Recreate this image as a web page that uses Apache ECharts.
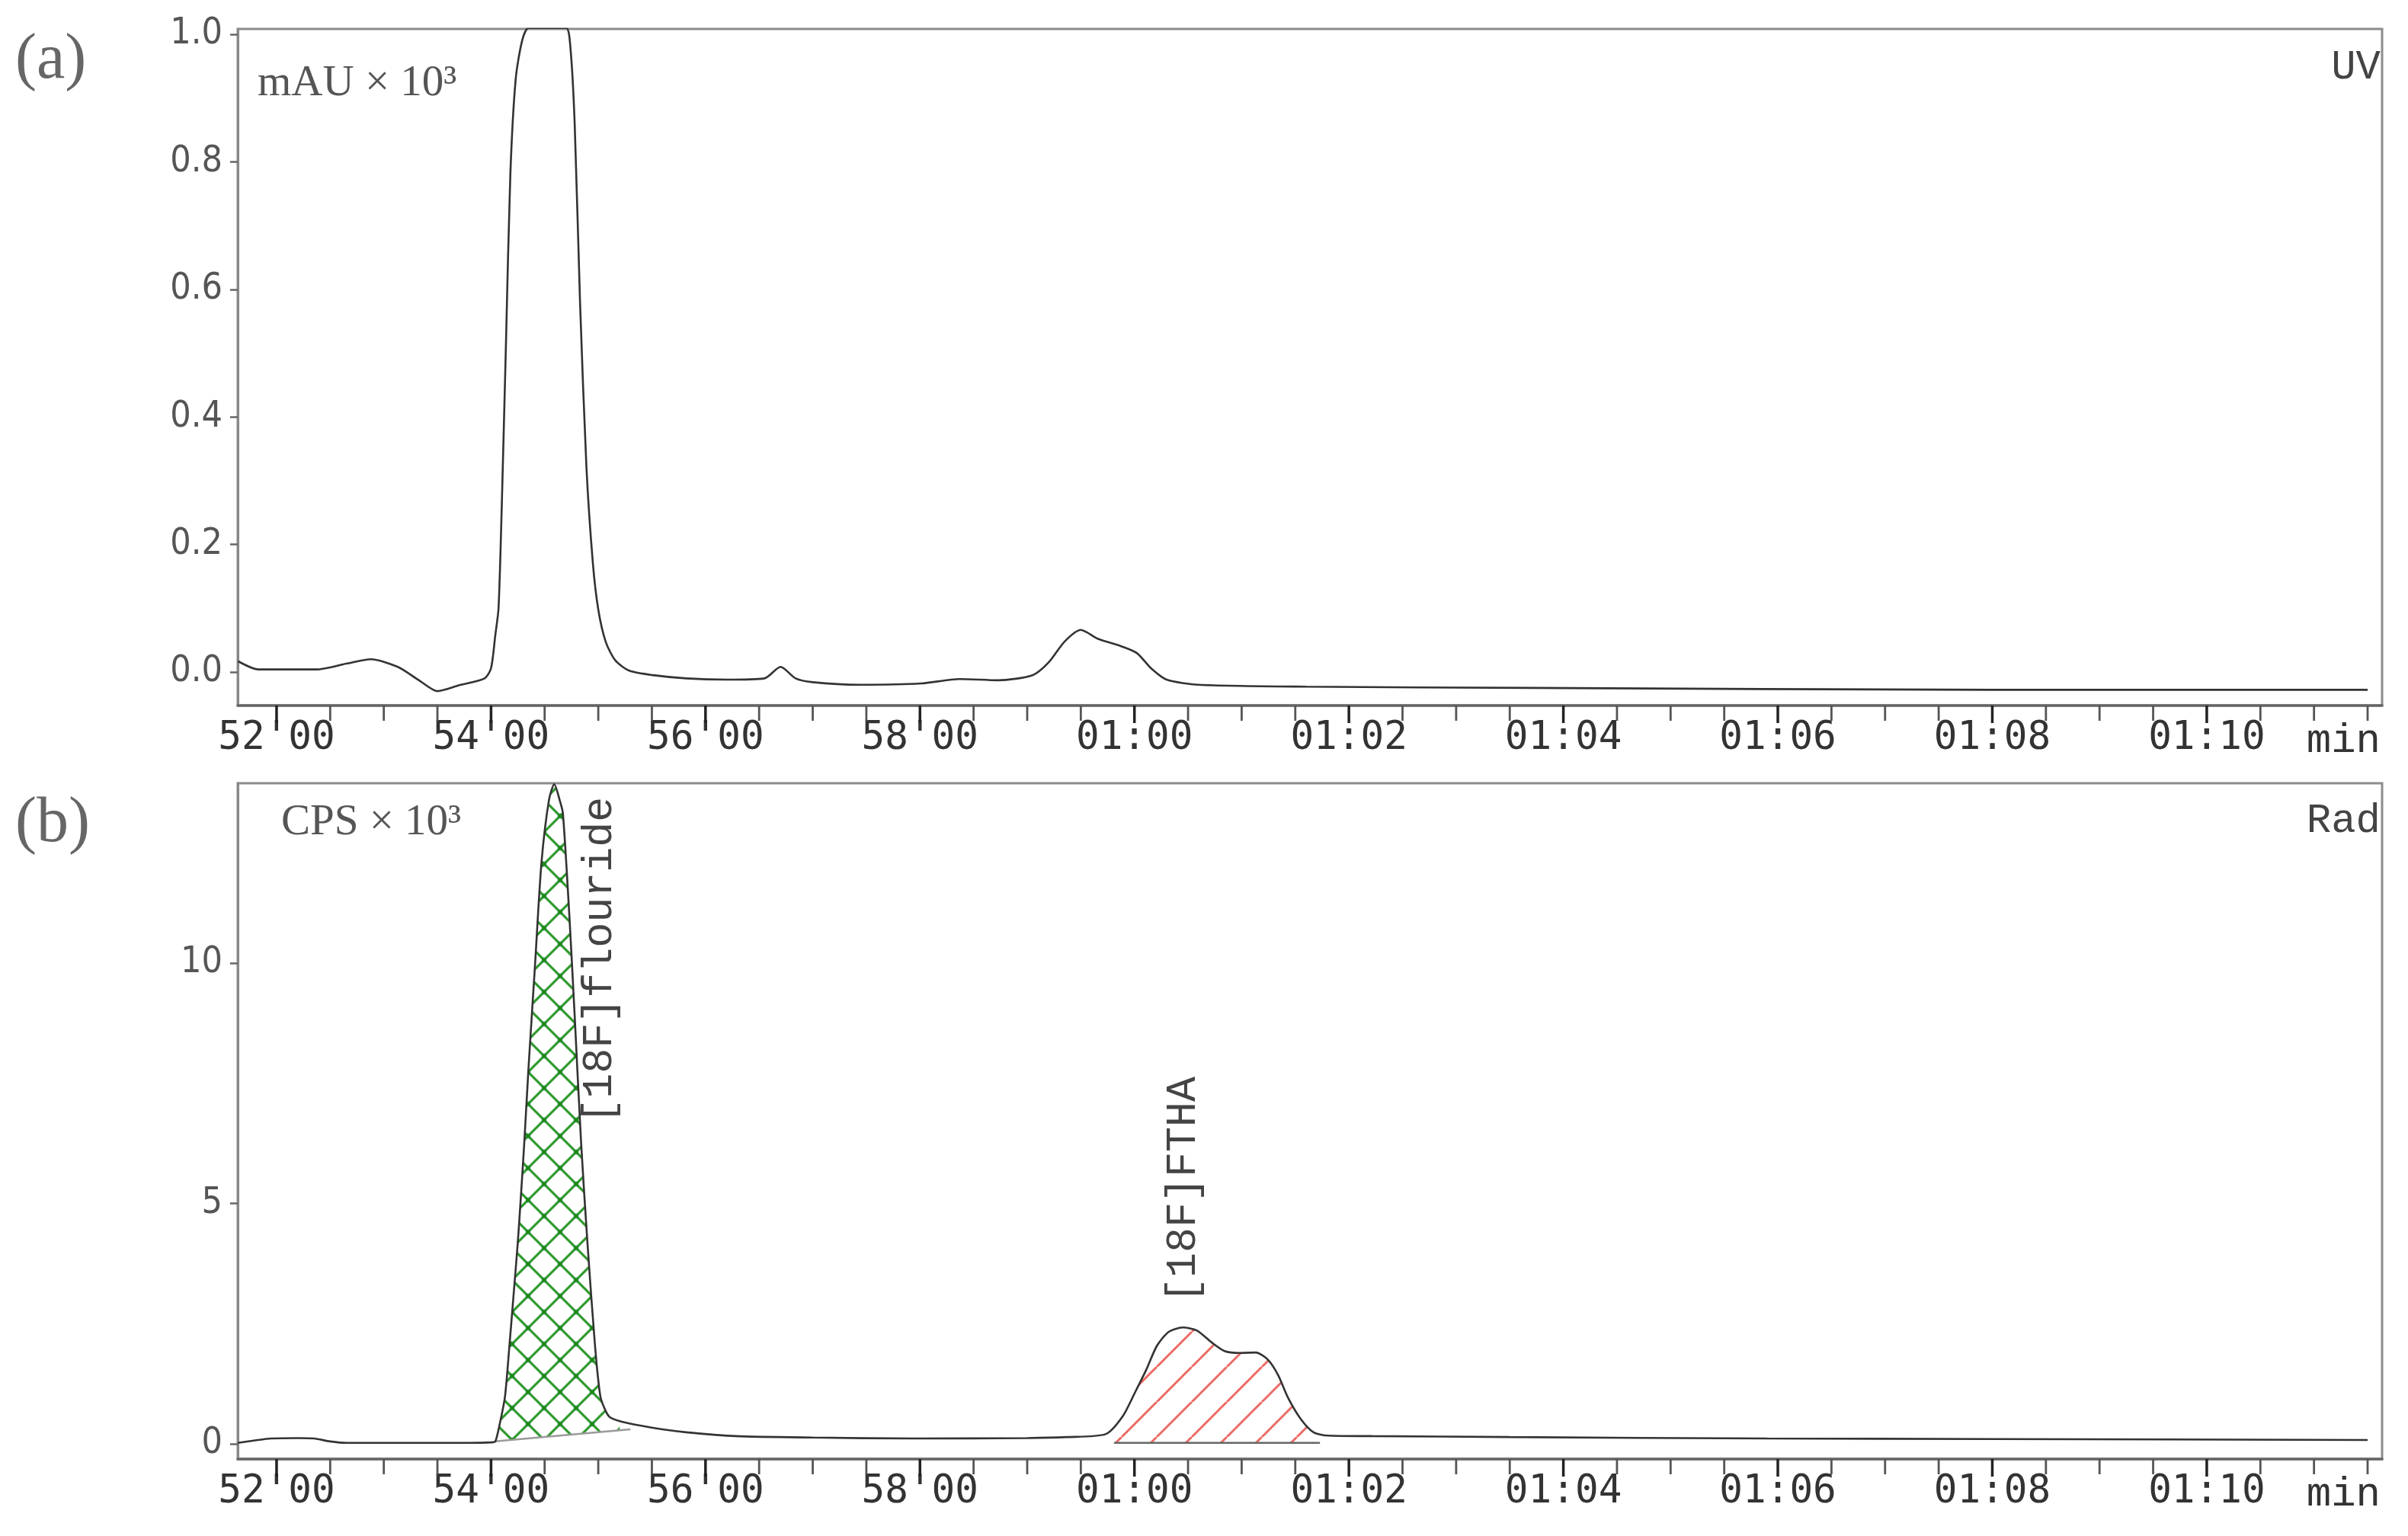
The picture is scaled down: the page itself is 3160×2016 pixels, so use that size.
<!DOCTYPE html>
<html><head><meta charset="utf-8">
<script src="https://cdn.jsdelivr.net/npm/echarts@6/dist/echarts.min.js"></script>
<style>html,body{margin:0;padding:0;background:#fff}#c{width:3160px;height:2016px}</style>
</head><body><div id="c"></div>
<script>
// ---------- data ----------
const uvTimes  = [51.64,51.83,52.10,52.37,52.65,52.88,53.13,53.32,53.50,53.70,53.94,54.00,54.04,54.07,54.10,54.14,54.18,54.23,54.29,54.35,54.50,54.70,54.74,54.78,54.83,54.89,54.95,55.00,55.07,55.16,55.29,55.51,55.82,56.20,56.55,56.70,56.84,57.00,57.44,58.01,58.37,58.73,59.05,59.20,59.35,59.50,59.66,59.85,60.02,60.16,60.30,60.60,61.60,63.70,68.00,71.50];
const uvValues = [0.017,0.004,0.004,0.004,0.013,0.020,0.008,-0.012,-0.030,-0.021,-0.010,0.006,0.058,0.10,0.26,0.52,0.78,0.93,0.99,1.01,1.01,1.01,0.98,0.86,0.58,0.32,0.17,0.098,0.047,0.018,0.002,-0.005,-0.010,-0.012,-0.010,0.008,-0.010,-0.016,-0.020,-0.018,-0.011,-0.013,-0.005,0.015,0.048,0.066,0.052,0.042,0.030,0.005,-0.012,-0.020,-0.023,-0.025,-0.028,-0.028];

const radTimes  = [51.64,51.80,51.95,52.20,52.35,52.50,52.65,53.20,53.80,54.00,54.04,54.08,54.13,54.17,54.21,54.25,54.28,54.31,54.35,54.41,54.47,54.54,54.59,54.64,54.67,54.73,54.78,54.84,54.90,54.97,55.02,55.07,55.11,55.20,55.34,55.60,55.82,56.28,57.00,57.95,59.00,59.37,59.73,59.89,60.01,60.11,60.21,60.32,60.45,60.58,60.72,60.84,60.98,61.13,61.24,61.34,61.43,61.55,61.67,61.81,62.22,63.50,65.90,68.00,71.50];
const radValues = [0.02,0.07,0.11,0.12,0.11,0.05,0.02,0.02,0.02,0.03,0.05,0.40,0.98,2.00,3.09,4.20,5.20,6.26,7.84,9.95,12.08,13.39,13.72,13.39,13.12,11.00,8.90,6.26,4.15,2.03,0.98,0.68,0.55,0.47,0.40,0.30,0.24,0.16,0.13,0.11,0.12,0.14,0.20,0.57,1.09,1.54,2.04,2.33,2.42,2.36,2.11,1.93,1.89,1.90,1.76,1.43,0.97,0.52,0.24,0.17,0.16,0.14,0.11,0.10,0.08];

const xMinorTicks = [52,52.5,53,53.5,54,54.5,55,55.5,56,56.5,57,57.5,58,58.5,59,59.5,60,60.5,61,61.5,62,62.5,63,63.5,64,64.5,65,65.5,66,66.5,67,67.5,68,68.5,69,69.5,70,70.5,71,71.5];
const xMajorTicks = [52,54,56,58,60,62,64,66,68,70];
const xTickLabels = ["52'00","54'00","56'00","58'00","01:00","01:02","01:04","01:06","01:08","01:10"];
const uvTicks = [0,0.2,0.4,0.6,0.8,1.0];
const uvTickLabels = ["0.0","0.2","0.4","0.6","0.8","1.0"];
const radTicks = [0,5,10];
const radTickLabels = ["0","5","10"];

// integrated peaks: range and baseline
const fluorideRange = [54.04,55.20];
const fluorideBaseTimes = [54.04,55.30];
const fluorideBaseValues = [0.05,0.30];
const fthaRange = [59.81,61.73];
const fthaBaseTimes = [59.81,61.73];
const fthaBaseValues = [0.02,0.02];

const peakLabels = ["[18F]flouride","[18F]FTHA"];
const peakLabelTimes = [55.02,60.46];
const peakLabelValues = [6.66,2.93];

// ---------- helpers ----------
const UV_MIN=-0.0526, UV_MAX=1.0084, RAD_MIN=-0.317, RAD_MAX=13.74;
const XMIN=51.638, XMAX=71.635;
const zip = (a,b)=>a.map((t,i)=>[t,b[i]]);
function interp(ts, vs, t){
  for(let i=0;i<ts.length-1;i++){
    if(t>=ts[i] && t<=ts[i+1]){ const f=(t-ts[i])/(ts[i+1]-ts[i]); return vs[i]+f*(vs[i+1]-vs[i]); }
  }
  return t<ts[0]?vs[0]:vs[vs.length-1];
}
function makePattern(kind){
  const P = kind==='cross'?42:46;
  const c=document.createElement('canvas'); c.width=P; c.height=P;
  const g=c.getContext('2d');
  g.strokeStyle = kind==='cross' ? '#2f9b2f' : '#ec6a64';
  g.lineWidth = kind==='cross' ? 3.2 : 3;
  for(let k=-1;k<=1;k++){
    if(kind==='cross'){ g.beginPath(); g.moveTo(k*P,0); g.lineTo(k*P+P,P); g.stroke(); }
    g.beginPath(); g.moveTo(k*P,P); g.lineTo(k*P+P,0); g.stroke();
  }
  if(kind==='cross'){
    g.fillStyle='#1f8a1f';
    [[0,0],[P,0],[0,P],[P,P],[P/2,P/2]].forEach(p=>{g.beginPath();g.arc(p[0],p[1],3.2,0,Math.PI*2);g.fill();});
  }
  return {image:c, repeat:'repeat'};
}
function hatchSeries(range, bT, bV, fill, stroke){
  return {
    type:'custom', coordinateSystem:'cartesian2d', xAxisIndex:1, yAxisIndex:1, z:2, silent:true,
    data:[[range[0], bV[0]]],
    renderItem:(params, api)=>{
      const pts=[api.coord([range[0], interp(radTimes,radValues,range[0])])];
      radTimes.forEach((t,i)=>{ if(t>range[0] && t<range[1]) pts.push(api.coord([t,radValues[i]])); });
      pts.push(api.coord([range[1], interp(radTimes,radValues,range[1])]));
      pts.push(api.coord([range[1], interp(bT,bV,range[1])]));
      pts.push(api.coord([range[0], interp(bT,bV,range[0])]));
      return {type:'group', children:[
        {type:'polygon', shape:{points:pts}, style:{fill:fill}},
        {type:'polyline', shape:{points:[api.coord([bT[0],bV[0]]), api.coord([bT[1],bV[1]])]}, style:{stroke:stroke, lineWidth:2.5, fill:null}}
      ]};
    }
  };
}
// half-minute tick marks below the time axis, placed through the axis scale
function tickSeries(idx, yMin){
  return {
    type:'custom', coordinateSystem:'cartesian2d', xAxisIndex:idx, yAxisIndex:idx, z:6, silent:true, clip:false,
    data:xMinorTicks.map(t=>[t, yMin]),
    renderItem:(params, api)=>{
      const t = api.value(0);
      const p = api.coord([t, yMin]);
      const major = xMajorTicks.indexOf(t) >= 0;
      return {type:'line', shape:{x1:p[0], y1:p[1], x2:p[0], y2:p[1] + (major?23:20)},
        style:{stroke: major?'#222':'#555', lineWidth: major?3.5:2.8}};
    }
  };
}

const tickFont = 'DejaVu Sans Mono';
function xAx(grid){
  return {type:'value', gridIndex:grid, min:XMIN, max:XMAX, position:'bottom',
    axisLine:{show:true, onZero:false, lineStyle:{color:'#666', width:3.5}},
    axisTick:{show:false},
    axisLabel:{show:true, customValues:xMajorTicks, margin:18, color:'#333', fontFamily:tickFont, fontSize:51,
      formatter:v=>xTickLabels[xMajorTicks.indexOf(v)]},
    splitLine:{show:false},
    name:'min', nameLocation:'end', nameGap:-2,
    nameTextStyle:{align:'right', verticalAlign:'top', padding:[20,0,0,0], fontFamily:'Liberation Mono', fontSize:54, color:'#333'}};
}
function yAx(grid, min, max, ticks, labels){
  return {type:'value', gridIndex:grid, min:min, max:max,
    axisLine:{show:true, onZero:false, lineStyle:{color:'#888', width:3}},
    axisTick:{show:true, customValues:ticks, length:10, lineStyle:{color:'#666', width:2.5}},
    axisLabel:{show:true, customValues:ticks, margin:20, color:'#555', fontFamily:'Liberation Sans Narrow, DejaVu Sans Condensed', fontSize:48,
      formatter:v=>labels[ticks.indexOf(v)]},
    splitLine:{show:false}};
}

const chart = echarts.init(document.getElementById('c'), null, {width:3160, height:2016});
chart.setOption({
  animation:false,
  backgroundColor:'#fff',
  grid:[
    {left:312, right:34, top:38, height:888, show:true, borderColor:'#8c8c8c', borderWidth:3},
    {left:312, right:34, top:1028, height:887, show:true, borderColor:'#8c8c8c', borderWidth:3}
  ],
  xAxis:[xAx(0), xAx(1)],
  yAxis:[yAx(0,UV_MIN,UV_MAX,uvTicks,uvTickLabels), yAx(1,RAD_MIN,RAD_MAX,radTicks,radTickLabels)],
  series:[
    {type:'line', xAxisIndex:0, yAxisIndex:0, data:zip(uvTimes,uvValues), showSymbol:false, smooth:0.25, z:5,
      lineStyle:{color:'#333', width:2.6}},
    hatchSeries(fluorideRange, fluorideBaseTimes, fluorideBaseValues, makePattern('cross'), '#9a9a9a'),
    hatchSeries(fthaRange, fthaBaseTimes, fthaBaseValues, makePattern('lines'), '#666'),
    {type:'line', xAxisIndex:1, yAxisIndex:1, data:zip(radTimes,radValues), showSymbol:false, smooth:0.25, z:5,
      lineStyle:{color:'#333', width:2.6}},
    tickSeries(0, UV_MIN),
    tickSeries(1, RAD_MIN)
  ]
});

const gfx = [
  {type:'text', x:20, y:80, style:{text:'(a)', font:'84px "Liberation Serif"', fill:'#666', textAlign:'left', textVerticalAlign:'middle'}},
  {type:'text', x:20, y:1082, style:{text:'(b)', font:'84px "Liberation Serif"', fill:'#666', textAlign:'left', textVerticalAlign:'middle'}},
  {type:'text', x:338, y:110, style:{text:'mAU \u00d7 10\u00b3', font:'57px "Liberation Serif"', fill:'#555', textAlign:'left', textVerticalAlign:'middle'}},
  {type:'text', x:369, y:1080, style:{text:'CPS \u00d7 10\u00b3', font:'57px "Liberation Serif"', fill:'#555', textAlign:'left', textVerticalAlign:'middle'}},
  {type:'text', x:3124, y:89, style:{text:'UV', font:'54px "Liberation Mono"', fill:'#444', textAlign:'right', textVerticalAlign:'middle'}},
  {type:'text', x:3124, y:1078, style:{text:'Rad', font:'54px "Liberation Mono"', fill:'#444', textAlign:'right', textVerticalAlign:'middle'}}
];
peakLabels.forEach((txt,i)=>{
  const p = chart.convertToPixel({xAxisIndex:1, yAxisIndex:1}, [peakLabelTimes[i], peakLabelValues[i]]);
  gfx.push({type:'text', x:p[0], y:p[1], rotation:Math.PI/2, z:10,
    style:{text:txt, font:'55px "Liberation Mono"', fill:'#444', textAlign:'left', textVerticalAlign:'middle'}});
});
chart.setOption({graphic:gfx});
</script>
</body></html>
